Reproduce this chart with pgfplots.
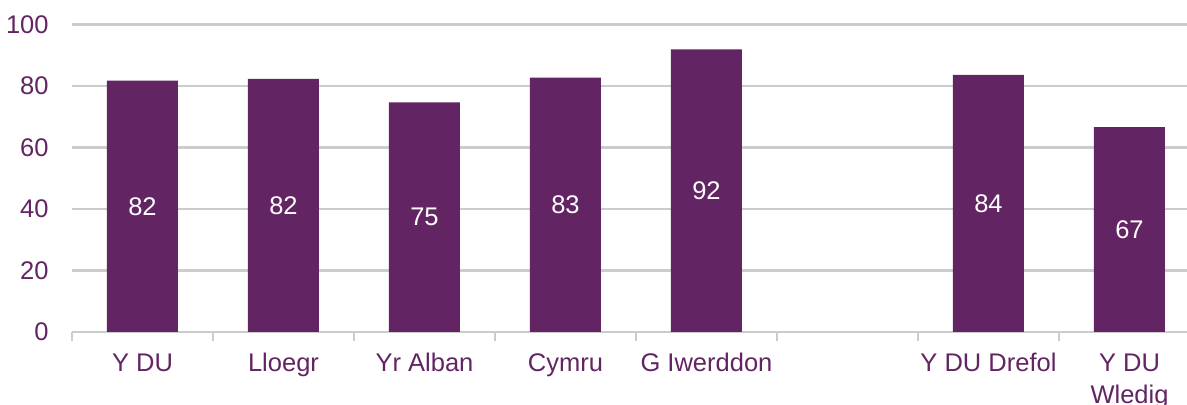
\documentclass[border=0pt]{standalone}
\usepackage{fontspec}
\setmainfont{Liberation Sans}
\usepackage{pgfplots}
\usepackage{pgfplotstable}
\pgfplotsset{compat=1.18}
\definecolor{barpurple}{HTML}{622462}
\definecolor{txtpurple}{HTML}{622462}
\definecolor{gridgray}{HTML}{CCCCCC}
\pgfplotstableread{
x y lab
0 81.8 82
1 82.4 82
2 74.7 75
3 82.8 83
4 92.0 92
6 83.7 84
7 66.7 67
}\datatable
\begin{document}
\begin{tikzpicture}
\useasboundingbox (-36pt,-36.5pt) rectangle (557.5pt,166pt);
\begin{axis}[
  at={(0,0)}, anchor=south west,
  scale only axis, width=557.5pt, height=153.65pt,
  xmin=-0.5, xmax=7.408, ymin=0, ymax=100,
  axis x line*=bottom, axis y line*=left,
  x axis line style={gridgray, line width=1.3pt, -},
  y axis line style={draw=none},
  ytick={0,20,...,100},
  ymajorgrids, grid style={gridgray, line width=1.3pt},
  major tick length=0pt,
  ytick style={draw=none},
  xtick={0,...,7},
  xticklabels={Y DU, Lloegr, Yr Alban, Cymru, G Iwerddon, {}, Y DU Drefol,
    {\begin{tabular}[t]{@{}c@{}}Y DU\\Wledig\end{tabular}}},
  major x tick style={draw=none},
  minor xtick={-0.5,0.5,...,7.5},
  minor x tick style={gridgray, line width=1.3pt},
  minor tick length=4.5pt,
  tick align=outside,
  xticklabel style={anchor=base, inner sep=0pt, yshift=-19.6pt,
    font=\fontsize{12.75}{16}\selectfont, text=txtpurple},
  yticklabel style={anchor=east, inner sep=0pt, xshift=-11.5pt,
    font=\fontsize{12.75}{16}\selectfont, text=txtpurple},
  /pgf/number format/assume math mode=true,
  clip=false,
]
\addplot[ybar, bar width=35.5pt, fill=barpurple, draw=none, bar shift=0pt]
  table[x=x, y=y] {\datatable};
\addplot[only marks, mark=none, nodes near coords, point meta=explicit symbolic,
  every node near coord/.style={anchor=center, text=white, inner sep=0pt,
    font=\fontsize{12.75}{16}\selectfont}]
  table[x=x, y expr=\thisrow{y}/2, meta=lab] {\datatable};
\end{axis}
\end{tikzpicture}
\end{document}
